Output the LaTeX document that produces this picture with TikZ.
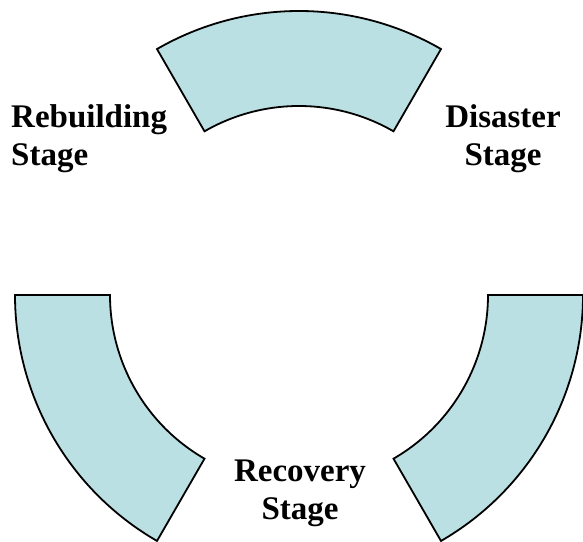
\documentclass[tikz,border=0pt]{standalone}
\usepackage{fontspec}
\setmainfont{Liberation Serif}
\usepackage{tikz}
\usetikzlibrary{calc}
\definecolor{bandblue}{RGB}{187,224,227}
\newcommand\drawStageBand[2]{%
\draw[band] ($ (ctr) + (#1:284) $) arc[start angle=#1, end angle=#2, radius=284]
  -- ($ (ctr) + (#2:189) $) arc[start angle=#2, end angle=#1, radius=189] -- cycle;
}
\begin{document}
\begin{tikzpicture}[x=1pt,y=1pt,
			band/.style={draw=black, fill=bandblue, line width=1.8pt, line join=miter},
			stage/.style={inner sep=0pt, font=\bfseries\fontsize{33}{38}\selectfont}]

			\useasboundingbox (0,0) rectangle (583,541);
			\coordinate (ctr) at (299,246);

			% drawing bands
			\drawStageBand{60}{120}
			\drawStageBand{180}{240}
			\drawStageBand{300}{360}

			% drawing labels
			\node[stage, align=left, anchor=north west] (rebuild) at (11,437) {Rebuilding\\Stage};
			\node[stage, align=center, anchor=north] (disaster) at (503,437) {Disaster\\Stage};
			\node[stage, align=center, anchor=north] (recovery) at (300,81) {Recovery\\Stage};

		\end{tikzpicture}
\end{document}
